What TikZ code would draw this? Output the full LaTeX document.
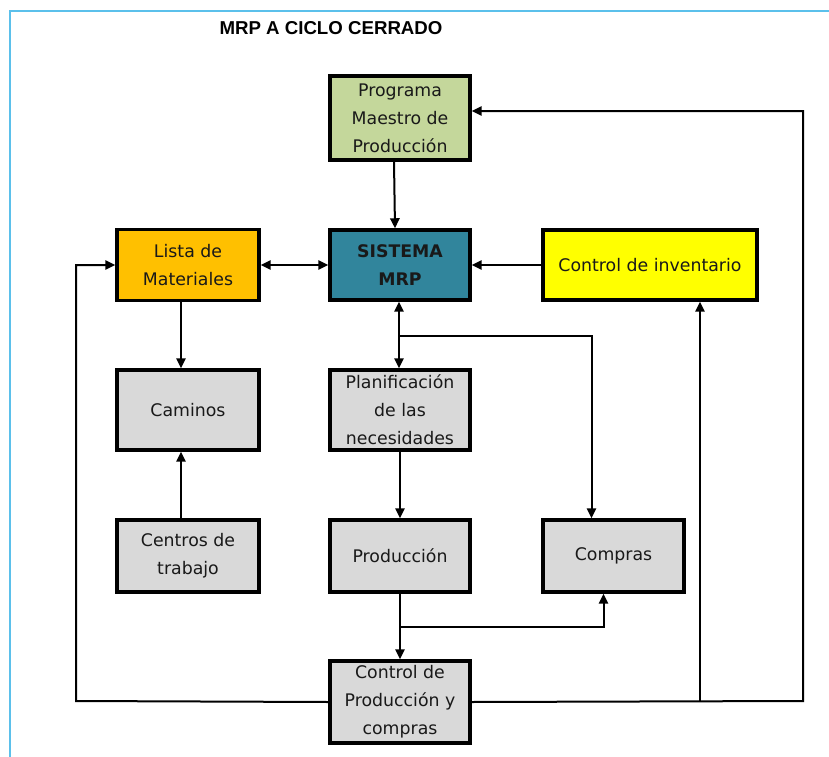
\documentclass[tikz,border=0pt]{standalone}
\usepackage{fontspec}
\setmainfont{DejaVu Sans}
\newfontfamily\titlefont{Liberation Sans}
\usetikzlibrary{arrows.meta,calc}
\definecolor{framecol}{RGB}{91,192,235}
\definecolor{pmpgreen}{RGB}{196,215,155}
\definecolor{mrpteal}{RGB}{49,133,156}
\definecolor{bomorange}{RGB}{255,192,0}
\definecolor{invyellow}{RGB}{255,255,0}
\definecolor{boxgray}{RGB}{217,217,217}
\begin{document}
\begin{tikzpicture}[x=0.75pt,y=-0.75pt,
  blk/.style={draw=black,line width=2.6pt,align=center,inner sep=1pt,
    font=\fontsize{13}{21}\selectfont,text=black!90},
  arr/.style={line width=1.5pt,-{Triangle[length=7.5pt,width=7pt]}},
  darr/.style={line width=1.5pt,{Triangle[length=7.5pt,width=7pt]}-{Triangle[length=7.5pt,width=7pt]}}]
\useasboundingbox (0,0) rectangle (829,757);
% page frame
\draw[framecol,line width=2pt] (10,757) -- (10,11) -- (829,11);
% title
\node (title) at (331,28) {\titlefont\bfseries\fontsize{14}{16}\selectfont MRP A CICLO CERRADO};
% blocks (sizes in pt: 0.75pt per unit)
\node[blk,fill=pmpgreen,minimum width=105pt,minimum height=63pt] (pmp) at (400,118) {Programa\\Maestro de\\Producción};
\node[blk,fill=mrpteal,minimum width=105pt,minimum height=52.5pt,font=\fontsize{13}{21}\selectfont\bfseries] (mrp) at (400,265) {SISTEMA\\MRP};
\node[blk,fill=bomorange,minimum width=106.5pt,minimum height=53pt] (lista) at (188,265) {Lista de\\Materiales};
\node[blk,fill=invyellow,minimum width=160.5pt,minimum height=52.5pt] (inv) at (650,265) {Control de inventario};
\node[blk,fill=boxgray,minimum width=106.5pt,minimum height=60pt] (cam) at (188,410) {Caminos};
\node[blk,fill=boxgray,minimum width=105pt,minimum height=60pt] (plan) at (400,410) {Planificación\\de las\\necesidades};
\node[blk,fill=boxgray,minimum width=106.5pt,minimum height=54pt] (cen) at (188,556) {Centros de\\trabajo};
\node[blk,fill=boxgray,minimum width=105pt,minimum height=54pt] (prod) at (400,556) {Producción};
\node[blk,fill=boxgray,minimum width=106pt,minimum height=54pt] (comp) at (613.5,556) {Compras};
\node[blk,fill=boxgray,minimum width=105pt,minimum height=61.5pt] (cpc) at (400,702) {Control de\\Producción y\\compras};
% junction points
\coordinate (j1) at (399,336);
\coordinate (j2) at (400,627);
\coordinate (j3) at (700,701);
\coordinate (cl) at (76,701);
\coordinate (cr) at (803,701);
% connectors
\draw[arr] ($(pmp.south)+(-6,0)$) -- ($(mrp.north)+(-5,0)$);
\draw[darr] (lista.east) -- (mrp.west);
\draw[arr] (inv.west) -- (mrp.east);
\draw[arr] ($(lista.south)+(-7,0)$) -- ($(cam.north)+(-7,0)$);
\draw[arr] ($(cen.north)+(-7,0)$) -- ($(cam.south)+(-7,0)$);
\draw[darr] ($(mrp.south)+(-1,0)$) -- ($(plan.north)+(-1,0)$);
\draw[arr] (j1) -| ($(comp.north)+(-22,0)$);
\draw[arr] (plan.south) -- (prod.north);
\draw[arr] (prod.south) -- (cpc.north);
\draw[arr] (j2) -| ($(comp.south)+(-10,0)$);
\draw[arr] (cpc.west) -- (cl) |- (lista.west);
\draw[arr] (cpc.east) -- (cr) |- ($(pmp.east)+(0,-7)$);
\draw[arr] (j3) -- ($(inv.south)+(50,0)$);
\end{tikzpicture}
\end{document}
